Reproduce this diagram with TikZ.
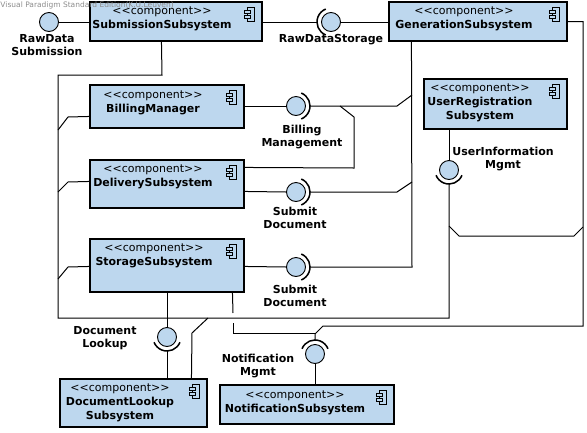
\documentclass[tikz,border=0pt]{standalone}
\usepackage{fontspec}
\setmainfont{DejaVu Sans}[Ligatures=TeXOff]
\usepackage{tikz}
\usetikzlibrary{calc}
\definecolor{compblue}{RGB}{189,215,238}
\newcommand{\compicon}[1]{%
  \draw[fill=compblue, line width=0.8pt] ($(#1.north east)+(-15,6)$) rectangle ($(#1.north east)+(-8,20)$);
  \draw[fill=compblue, line width=0.8pt] ($(#1.north east)+(-18,9)$) rectangle ($(#1.north east)+(-12,12)$);
  \draw[fill=compblue, line width=0.8pt] ($(#1.north east)+(-18,14)$) rectangle ($(#1.north east)+(-12,17)$);}

\begin{document}
\begin{tikzpicture}[x=1pt, y=-1pt, line width=1pt, comp/.style={rectangle, draw=black, fill=compblue, line width=1.1pt, inner sep=0}, comptxt/.style={align=center, inner sep=0, font=\fontsize{11}{14}\selectfont}, ball/.style={circle, draw=black, fill=compblue, line width=0.9pt, minimum size=19pt, inner sep=0}, socket/.style={line width=1.5pt}, iflabel/.style={align=center, inner sep=0, font=\fontsize{11}{13}\selectfont\bfseries}, watermark/.style={inner sep=0, text=black!45, font=\fontsize{7.5}{9}\selectfont}]
    \useasboundingbox (0,0) rectangle (587,432);

    %Nodes
    \node[comp, minimum width=172pt, minimum height=39pt] (submission) at (176,21.5) {};
    \node[comp, minimum width=178pt, minimum height=39pt] (generation) at (478,21.5) {};
    \node[comp, minimum width=154pt, minimum height=43pt] (billing) at (167,106.5) {};
    \node[comp, minimum width=143pt, minimum height=50pt] (userreg) at (495.5,104) {};
    \node[comp, minimum width=154pt, minimum height=48pt] (delivery) at (167,184) {};
    \node[comp, minimum width=154pt, minimum height=53pt] (storage) at (167,265.5) {};
    \node[comp, minimum width=147pt, minimum height=48pt] (doclookup) at (133.5,403) {};
    \node[comp, minimum width=174pt, minimum height=39pt] (notification) at (307,404.5) {};
    \foreach \c in {submission, generation, billing, userreg, delivery, storage, doclookup, notification}
        {\compicon{\c}}

    \node[comptxt] (submission-t) at (162,19) {<<component>>\\\textbf{SubmissionSubsystem}};
    \node[comptxt] (generation-t) at (464,19) {<<component>>\\\textbf{GenerationSubsystem}};
    \node[comptxt] (billing-t) at (153,102.5) {<<component>>\\\textbf{BillingManager}};
    \node[comptxt] (userreg-t) at (480,103) {<<component>>\\\textbf{UserRegistration}\\\textbf{Subsystem}};
    \node[comptxt] (delivery-t) at (153,176.5) {<<component>>\\\textbf{DeliverySubsystem}};
    \node[comptxt] (storage-t) at (154,256) {<<component>>\\\textbf{StorageSubsystem}};
    \node[comptxt] (doclookup-t) at (120,403) {<<component>>\\\textbf{DocumentLookup}\\\textbf{Subsystem}};
    \node[comptxt] (notification-t) at (295,402.5) {<<component>>\\\textbf{NotificationSubsystem}};

    \node[ball] (rawsub) at (49,22) {};
    \node[ball] (rawstore) at (331,22) {};
    \node[ball] (billmgmt) at (296,106) {};
    \node[ball] (submitdoc1) at (296,192) {};
    \node[ball] (submitdoc2) at (296,267) {};
    \node[ball] (userinfo) at (449,170) {};
    \node[ball] (doclook) at (167,337) {};
    \node[ball] (notifmgmt) at (315,354) {};

    \node[iflabel] (rawsub-l) at (47,45) {RawData\\Submission};
    \node[iflabel] (rawstore-l) at (331,40) {RawDataStorage};
    \node[iflabel] (billmgmt-l) at (302,137) {Billing\\Management};
    \node[iflabel] (submitdoc1-l) at (295,218) {Submit\\Document};
    \node[iflabel] (submitdoc2-l) at (295,295.5) {Submit\\Document};
    \node[iflabel] (userinfo-l) at (503,159.5) {UserInformation\\Mgmt};
    \node[iflabel] (doclook-l) at (105,338) {Document\\Lookup};
    \node[iflabel] (notifmgmt-l) at (258,366) {Notification\\Mgmt};

    %Sockets
    \coordinate (rawstore-s) at ($(rawstore)+(-14,0)$);
    \coordinate (billmgmt-s) at ($(billmgmt)+(14,0)$);
    \coordinate (submitdoc1-s) at ($(submitdoc1)+(14,0)$);
    \coordinate (submitdoc2-s) at ($(submitdoc2)+(14,0)$);
    \coordinate (userinfo-s) at ($(userinfo)+(0,14)$);
    \coordinate (doclook-s) at ($(doclook)+(0,14)$);
    \coordinate (notifmgmt-s) at ($(notifmgmt)+(0,-14)$);
    \draw[socket] ($(rawstore)+(112:14)$) arc[start angle=112, end angle=248, radius=14];
    \foreach \s in {billmgmt, submitdoc1, submitdoc2}
        {\draw[socket] ($(\s)+(-68:14)$) arc[start angle=-68, end angle=68, radius=14];}
    \foreach \s in {userinfo, doclook}
        {\draw[socket] ($(\s)+(22:14)$) arc[start angle=22, end angle=158, radius=14];}
    \draw[socket] ($(notifmgmt)+(202:14)$) arc[start angle=202, end angle=338, radius=14];

    %Lines
    \draw (rawsub.east) -- (rawsub.east -| submission.west);
    \draw (submission.east |- rawstore) -- (rawstore-s);
    \draw (rawstore.east) -- (rawstore.east -| generation.west);
    \draw (billing.east |- billmgmt) -- (billmgmt.west);
    \draw (billmgmt-s) -- (397,106) -- (412,95);
    \draw (340,106) -- (354,117) -- (354,168) -- ($(delivery.north east)+(0,8)$);
    \draw ($(delivery.north east)+(0,32)$) -- (submitdoc1.west);
    \draw (submitdoc1-s) -- (397,192) -- (412,182);
    \draw ($(storage.north east)+(0,28)$) -- (submitdoc2.west);
    \draw (submitdoc2-s) -- (412,267) -- ($(generation.south west)+(23,0)$);
    \draw (userreg.south -| userinfo) -- (userinfo.north);
    \draw (userinfo-s) -- (449,318) -- (58,318) -- (58,75) -- (162,75) -- ($(submission.south west)+(72,0)$);
    \draw (58,130) -- (68,117) -- ($(billing.north west)+(0,32)$);
    \draw (58,192) -- (68,182) -- ($(delivery.north west)+(0,22)$);
    \draw (58,279) -- (68,267) -- ($(storage.north west)+(0,28)$);
    \draw (449,226) -- (459,236) -- (574,236) -- (583,227);
    \draw (generation.east) -- (583,21.5) -- (583,326) -- (323,326) -- (315,334) -- (notifmgmt-s);
    \draw ($(doclookup.north west)+(132,0)$) -- (192,333) -- (208,318);
    \draw (storage.south -| doclook) -- (doclook.north);
    \draw (doclook-s) -- (doclookup.north -| doclook);
    \draw ($(storage.south west)+(143,0)$) -- (233,313);
    \draw (233,323) -- (233,333) -- (315,333);
    \draw (notifmgmt.south) -- (notification.north -| notifmgmt);

    \node[watermark, anchor=west] (vpmark) at (0,5) {Visual Paradigm Standard Edition(K.U.Leuven)};

\end{tikzpicture}
\end{document}
